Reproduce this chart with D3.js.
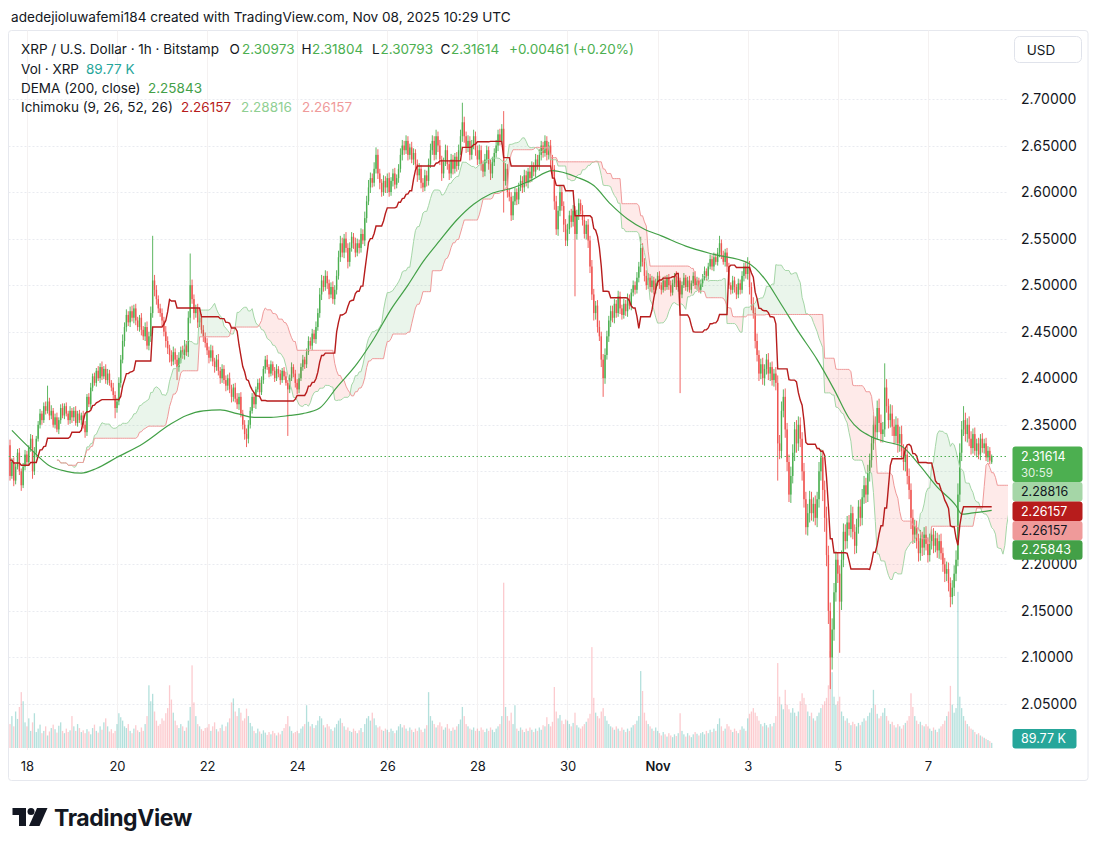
<!DOCTYPE html>
<html>
<head>
<meta charset="utf-8">
<script src="https://cdn.jsdelivr.net/npm/d3@7"></script>
<style>
  body { margin: 0; background: #fff; }
  svg { font-family: Inter, "Noto Sans", sans-serif; }
</style>
</head>
<body>
<svg id="chart" width="1100" height="848"></svg>
<script>
// XRP / USD, 1h candles, Bitstamp

const firstBarTime = '2025-10-17T15:00:00Z';
const firstOpen = 2.328;
const lastOpen = 2.30973;

// hourly closes, one row per day (first row Oct 17 15h-23h, last row Nov 8 0h-10h)
const closeRows = [
  [2.295, 2.310, 2.290, 2.305, 2.320, 2.300, 2.285, 2.305, 2.318],
  [2.310, 2.325, 2.335, 2.300, 2.320, 2.335, 2.350, 2.362, 2.355, 2.370, 2.365, 2.375, 2.360, 2.365, 2.350, 2.358, 2.345, 2.355, 2.368, 2.360, 2.370, 2.362, 2.355, 2.365],
  [2.358, 2.365, 2.352, 2.362, 2.355, 2.360, 2.350, 2.342, 2.380, 2.372, 2.390, 2.402, 2.395, 2.408, 2.400, 2.412, 2.402, 2.410, 2.398, 2.405, 2.395, 2.390, 2.382, 2.368],
  [2.375, 2.395, 2.420, 2.440, 2.455, 2.468, 2.460, 2.472, 2.465, 2.475, 2.462, 2.455, 2.465, 2.452, 2.445, 2.455, 2.435, 2.445, 2.470, 2.505, 2.495, 2.485, 2.475, 2.470],
  [2.462, 2.450, 2.440, 2.432, 2.425, 2.418, 2.428, 2.420, 2.412, 2.422, 2.430, 2.425, 2.435, 2.428, 2.465, 2.500, 2.485, 2.470, 2.475, 2.460, 2.465, 2.452, 2.445, 2.438],
  [2.430, 2.422, 2.430, 2.418, 2.412, 2.420, 2.408, 2.400, 2.410, 2.398, 2.392, 2.400, 2.388, 2.380, 2.390, 2.378, 2.372, 2.380, 2.362, 2.350, 2.340, 2.335, 2.350, 2.365],
  [2.380, 2.372, 2.388, 2.395, 2.385, 2.398, 2.410, 2.420, 2.412, 2.405, 2.415, 2.408, 2.400, 2.410, 2.405, 2.398, 2.408, 2.402, 2.395, 2.388, 2.400, 2.412, 2.405, 2.395],
  [2.388, 2.400, 2.412, 2.420, 2.415, 2.428, 2.440, 2.435, 2.448, 2.442, 2.455, 2.470, 2.490, 2.505, 2.498, 2.510, 2.502, 2.490, 2.498, 2.485, 2.495, 2.510, 2.530, 2.545],
  [2.535, 2.550, 2.540, 2.525, 2.540, 2.552, 2.545, 2.535, 2.545, 2.540, 2.555, 2.548, 2.572, 2.590, 2.605, 2.615, 2.610, 2.625, 2.640, 2.620, 2.610, 2.600, 2.612, 2.605],
  [2.615, 2.600, 2.612, 2.620, 2.608, 2.615, 2.625, 2.640, 2.650, 2.645, 2.655, 2.640, 2.648, 2.635, 2.642, 2.630, 2.618, 2.625, 2.610, 2.605, 2.618, 2.612, 2.630, 2.645],
  [2.655, 2.640, 2.660, 2.650, 2.635, 2.620, 2.632, 2.645, 2.630, 2.620, 2.635, 2.625, 2.638, 2.628, 2.645, 2.660, 2.675, 2.660, 2.648, 2.655, 2.640, 2.650, 2.660, 2.645],
  [2.635, 2.645, 2.630, 2.622, 2.635, 2.645, 2.630, 2.620, 2.632, 2.642, 2.650, 2.662, 2.655, 2.668, 2.612, 2.625, 2.600, 2.595, 2.575, 2.590, 2.600, 2.592, 2.605, 2.612],
  [2.605, 2.618, 2.610, 2.622, 2.615, 2.628, 2.622, 2.635, 2.628, 2.640, 2.650, 2.642, 2.655, 2.640, 2.650, 2.635, 2.625, 2.590, 2.560, 2.580, 2.600, 2.585, 2.565, 2.548],
  [2.560, 2.575, 2.568, 2.580, 2.555, 2.575, 2.588, 2.580, 2.570, 2.555, 2.565, 2.548, 2.520, 2.490, 2.470, 2.478, 2.455, 2.445, 2.420, 2.400, 2.425, 2.445, 2.462, 2.472],
  [2.465, 2.480, 2.470, 2.488, 2.475, 2.468, 2.480, 2.472, 2.485, 2.478, 2.492, 2.500, 2.495, 2.508, 2.520, 2.540, 2.525, 2.510, 2.500, 2.508, 2.498, 2.505, 2.495, 2.502],
  [2.510, 2.500, 2.495, 2.505, 2.498, 2.508, 2.500, 2.492, 2.502, 2.510, 2.498, 2.505, 2.490, 2.500, 2.508, 2.498, 2.505, 2.495, 2.502, 2.510, 2.500, 2.505, 2.495, 2.502],
  [2.508, 2.515, 2.510, 2.520, 2.528, 2.520, 2.530, 2.525, 2.535, 2.545, 2.532, 2.525, 2.535, 2.520, 2.500, 2.495, 2.505, 2.498, 2.490, 2.502, 2.495, 2.510, 2.520, 2.512],
  [2.520, 2.498, 2.480, 2.470, 2.440, 2.425, 2.405, 2.415, 2.400, 2.410, 2.420, 2.405, 2.412, 2.398, 2.405, 2.395, 2.330, 2.322, 2.365, 2.380, 2.345, 2.310, 2.275, 2.295],
  [2.320, 2.345, 2.330, 2.350, 2.335, 2.300, 2.270, 2.240, 2.255, 2.270, 2.255, 2.265, 2.250, 2.270, 2.300, 2.315, 2.280, 2.250, 2.210, 2.150, 2.100, 2.130, 2.170, 2.205],
  [2.190, 2.160, 2.205, 2.235, 2.225, 2.245, 2.238, 2.255, 2.235, 2.220, 2.240, 2.262, 2.250, 2.272, 2.285, 2.275, 2.298, 2.312, 2.330, 2.350, 2.342, 2.368, 2.352, 2.340],
  [2.345, 2.390, 2.370, 2.355, 2.362, 2.348, 2.338, 2.350, 2.330, 2.340, 2.322, 2.310, 2.318, 2.295, 2.280, 2.250, 2.232, 2.240, 2.225, 2.212, 2.228, 2.218, 2.232, 2.222],
  [2.210, 2.225, 2.232, 2.220, 2.228, 2.215, 2.225, 2.212, 2.200, 2.190, 2.195, 2.180, 2.165, 2.175, 2.190, 2.205, 2.275, 2.320, 2.345, 2.355, 2.340, 2.350, 2.335, 2.325],
  [2.340, 2.322, 2.330, 2.318, 2.335, 2.325, 2.330, 2.315, 2.322, 2.31153, 2.31614]
];

// upper wick above the body, in 0.001 USD, same rows
const wickHiRows = [
  [6, 4, 5, 3, 4, 5, 3, 4, 5],
  [4, 3, 5, 4, 6, 3, 4, 5, 3, 4, 5, 17, 4, 6, 3, 4, 5, 3, 4, 5, 3, 4, 3, 5],
  [3, 4, 5, 3, 4, 3, 5, 4, 3, 4, 5, 3, 4, 3, 5, 4, 6, 3, 5, 5, 4, 3, 5, 4],
  [4, 6, 5, 7, 5, 6, 4, 5, 6, 4, 5, 4, 3, 5, 4, 5, 6, 5, 7, 48, 6, 5, 4, 5],
  [5, 4, 6, 5, 4, 5, 6, 4, 5, 6, 4, 5, 6, 5, 7, 34, 6, 5, 4, 5, 6, 4, 5, 4],
  [5, 4, 6, 5, 4, 5, 6, 4, 5, 4, 5, 4, 6, 5, 4, 5, 6, 4, 5, 4, 5, 6, 5, 4],
  [4, 5, 3, 4, 5, 4, 3, 4, 5, 3, 4, 3, 4, 5, 3, 4, 3, 4, 5, 3, 4, 5, 3, 4],
  [4, 5, 4, 5, 3, 4, 5, 4, 5, 4, 6, 5, 7, 6, 5, 6, 5, 4, 5, 6, 5, 6, 7, 8],
  [6, 5, 7, 5, 6, 5, 4, 6, 5, 4, 6, 5, 7, 6, 8, 6, 5, 7, 8, 6, 5, 4, 6, 5],
  [5, 6, 4, 5, 6, 4, 5, 7, 6, 5, 6, 5, 4, 6, 5, 4, 5, 6, 4, 5, 6, 5, 6, 7],
  [6, 5, 7, 5, 6, 4, 5, 6, 5, 4, 6, 5, 4, 5, 6, 7, 21, 6, 5, 6, 5, 6, 7, 5],
  [5, 6, 5, 4, 6, 5, 4, 5, 6, 5, 6, 5, 6, 5, 19, 6, 5, 4, 5, 6, 5, 4, 5, 6],
  [5, 6, 5, 4, 6, 5, 4, 6, 5, 6, 5, 4, 6, 5, 4, 6, 5, 4, 6, 5, 7, 6, 5, 6],
  [6, 5, 7, 6, 5, 6, 5, 4, 6, 5, 4, 6, 5, 7, 6, 5, 6, 7, 5, 6, 7, 6, 5, 6],
  [6, 5, 4, 6, 5, 4, 5, 4, 6, 5, 4, 5, 4, 6, 5, 12, 5, 4, 6, 5, 4, 5, 4, 5],
  [4, 5, 3, 4, 5, 3, 4, 5, 4, 3, 5, 4, 3, 4, 5, 3, 4, 5, 3, 4, 5, 4, 3, 4],
  [4, 5, 3, 4, 5, 4, 5, 4, 5, 8, 4, 5, 4, 5, 4, 3, 5, 4, 3, 5, 4, 5, 4, 6],
  [10, 6, 5, 7, 6, 8, 5, 6, 7, 5, 6, 7, 5, 6, 5, 7, 8, 9, 10, 8, 9, 7, 8, 10],
  [9, 8, 10, 9, 8, 7, 9, 8, 10, 9, 8, 7, 9, 8, 10, 9, 8, 10, 12, 10, 9, 12, 10, 9],
  [8, 9, 10, 9, 8, 7, 8, 9, 7, 8, 9, 7, 8, 9, 10, 8, 9, 7, 8, 10, 9, 8, 10, 9],
  [8, 26, 9, 8, 10, 9, 8, 9, 7, 8, 9, 7, 8, 9, 8, 7, 9, 8, 7, 8, 9, 7, 8, 9],
  [7, 8, 6, 7, 8, 6, 7, 8, 6, 7, 8, 7, 6, 8, 9, 10, 12, 10, 9, 15, 8, 7, 9, 8],
  [6, 7, 5, 6, 5, 6, 5, 6, 5, 4, 1.9]
];

// lower wick below the body, in 0.001 USD, same rows
const wickLoRows = [
  [5, 3, 6, 4, 3, 4, 6, 3, 4],
  [3, 4, 4, 8, 4, 5, 3, 4, 5, 3, 4, 3, 5, 4, 3, 4, 3, 5, 4, 3, 4, 3, 5, 4],
  [6, 4, 3, 4, 3, 5, 4, 6, 4, 3, 5, 4, 3, 4, 3, 5, 4, 3, 4, 5, 3, 4, 5, 11],
  [5, 4, 5, 4, 6, 5, 4, 5, 4, 6, 5, 4, 5, 6, 4, 5, 4, 5, 6, 5, 7, 6, 5, 4],
  [6, 5, 7, 6, 8, 5, 4, 5, 14, 5, 6, 4, 5, 4, 5, 6, 5, 7, 5, 6, 5, 4, 6, 5],
  [5, 6, 4, 5, 6, 4, 5, 6, 5, 4, 6, 5, 4, 6, 5, 4, 5, 6, 4, 5, 6, 9, 5, 4],
  [3, 4, 5, 3, 4, 3, 4, 5, 3, 4, 3, 5, 4, 3, 4, 5, 3, 4, 3, 50, 4, 3, 4, 5],
  [5, 4, 3, 4, 5, 4, 3, 4, 5, 4, 5, 4, 5, 6, 5, 4, 6, 5, 4, 5, 6, 5, 4, 5],
  [5, 6, 5, 7, 5, 4, 6, 5, 4, 6, 5, 4, 6, 5, 4, 6, 5, 4, 5, 6, 7, 5, 4, 6],
  [6, 5, 4, 6, 5, 4, 5, 4, 6, 5, 4, 6, 5, 4, 6, 5, 7, 5, 6, 5, 4, 6, 5, 4],
  [5, 6, 5, 7, 6, 8, 5, 4, 6, 7, 5, 6, 5, 6, 4, 5, 6, 7, 6, 5, 6, 5, 4, 6],
  [6, 5, 7, 6, 5, 4, 6, 7, 5, 4, 5, 6, 5, 4, 34, 5, 6, 5, 6, 5, 4, 6, 5, 4],
  [6, 5, 4, 6, 5, 4, 5, 6, 4, 5, 6, 5, 4, 6, 5, 7, 8, 9, 6, 7, 6, 5, 8, 6],
  [6, 5, 6, 5, 67, 6, 5, 4, 6, 5, 6, 8, 7, 6, 8, 7, 6, 5, 8, 20, 6, 5, 6, 7],
  [5, 6, 5, 4, 6, 5, 4, 5, 6, 4, 5, 4, 5, 4, 5, 6, 5, 6, 5, 4, 5, 6, 5, 4],
  [3, 4, 5, 3, 4, 3, 5, 4, 3, 4, 3, 5, 106, 4, 3, 4, 5, 3, 4, 3, 4, 5, 3, 4],
  [4, 3, 5, 4, 3, 4, 5, 3, 4, 5, 4, 3, 5, 6, 4, 5, 4, 6, 5, 4, 5, 4, 6, 5],
  [6, 8, 7, 6, 8, 7, 8, 6, 7, 8, 6, 7, 8, 6, 7, 8, 40, 9, 8, 7, 9, 10, 8, 9],
  [8, 9, 10, 8, 9, 10, 9, 8, 9, 10, 8, 9, 8, 10, 9, 10, 12, 15, 12, 14, 34, 13, 12, 10],
  [10, 55, 9, 8, 9, 8, 7, 9, 8, 9, 8, 7, 9, 8, 7, 9, 8, 9, 8, 7, 9, 8, 10, 9],
  [9, 8, 7, 9, 8, 10, 9, 8, 10, 9, 8, 9, 10, 9, 10, 12, 10, 9, 8, 9, 8, 9, 8, 7],
  [8, 7, 9, 8, 7, 8, 9, 7, 8, 9, 8, 9, 11, 8, 9, 8, 7, 8, 9, 7, 8, 9, 8, 7],
  [6, 5, 7, 5, 6, 5, 6, 4, 5, 4, 1.8]
];

// hourly volume, thousands of XRP, same rows
const volumeRows = [
  [420, 560, 380, 640, 510, 720, 980, 820, 450],
  [380, 520, 300, 450, 610, 280, 340, 410, 260, 300, 380, 220, 290, 350, 410, 330, 270, 390, 450, 300, 260, 340, 280, 310],
  [560, 380, 300, 420, 350, 280, 310, 260, 330, 290, 240, 350, 410, 300, 270, 380, 320, 450, 520, 380, 290, 330, 260, 300],
  [420, 610, 540, 480, 380, 350, 420, 300, 260, 340, 400, 310, 280, 360, 300, 420, 560, 1100, 820, 950, 640, 480, 390, 420],
  [520, 480, 610, 700, 1100, 850, 620, 480, 400, 350, 420, 380, 300, 360, 480, 720, 1450, 800, 560, 420, 380, 330, 300, 350],
  [360, 420, 300, 380, 450, 330, 290, 350, 410, 300, 380, 450, 520, 800, 870, 640, 560, 700, 620, 480, 520, 690, 560, 440],
  [380, 300, 260, 340, 290, 250, 310, 270, 230, 280, 240, 300, 260, 220, 270, 240, 300, 350, 420, 560, 380, 300, 260, 280],
  [300, 260, 340, 380, 420, 750, 460, 380, 420, 350, 400, 480, 560, 520, 400, 360, 420, 380, 330, 300, 360, 420, 480, 520],
  [440, 380, 320, 360, 300, 280, 340, 300, 260, 310, 350, 280, 420, 520, 560, 480, 620, 520, 400, 360, 380, 320, 300, 340],
  [320, 280, 340, 300, 260, 310, 380, 420, 360, 400, 340, 300, 360, 320, 280, 340, 300, 360, 320, 280, 340, 400, 980, 560],
  [480, 420, 360, 400, 450, 380, 320, 360, 420, 340, 300, 360, 320, 380, 420, 500, 720, 560, 420, 380, 340, 320, 360, 300],
  [340, 300, 360, 320, 280, 340, 300, 360, 320, 280, 340, 380, 420, 560, 2900, 720, 560, 480, 620, 420, 750, 340, 300, 360],
  [320, 280, 340, 300, 360, 320, 280, 340, 300, 360, 320, 400, 380, 540, 420, 380, 460, 1070, 640, 520, 580, 480, 420, 500],
  [480, 420, 380, 440, 620, 400, 360, 340, 380, 420, 460, 520, 600, 1770, 880, 620, 560, 520, 640, 700, 560, 480, 420, 380],
  [360, 320, 380, 340, 300, 360, 320, 280, 340, 300, 360, 400, 420, 480, 560, 1350, 1000, 620, 480, 420, 380, 340, 300, 360],
  [300, 260, 220, 280, 240, 200, 260, 220, 190, 240, 210, 260, 610, 300, 240, 200, 260, 220, 190, 240, 280, 250, 220, 260],
  [280, 240, 300, 260, 320, 280, 340, 300, 420, 520, 380, 300, 340, 420, 380, 320, 280, 340, 300, 260, 320, 380, 340, 300],
  [520, 600, 640, 700, 620, 560, 480, 420, 380, 440, 400, 360, 420, 380, 440, 560, 1490, 900, 760, 680, 1020, 760, 680, 620],
  [700, 620, 560, 640, 820, 960, 880, 760, 640, 560, 620, 520, 480, 560, 620, 700, 760, 820, 880, 1100, 1700, 1330, 900, 760],
  [820, 900, 640, 560, 480, 520, 440, 400, 460, 420, 380, 440, 400, 460, 520, 480, 560, 620, 700, 1020, 760, 600, 520, 560],
  [620, 700, 560, 480, 420, 460, 400, 360, 420, 380, 340, 400, 440, 480, 560, 960, 720, 560, 480, 420, 460, 400, 380, 420],
  [380, 340, 300, 360, 320, 280, 340, 380, 420, 480, 560, 640, 1090, 760, 620, 700, 2740, 900, 700, 560, 480, 420, 380, 340],
  [320, 280, 240, 260, 220, 200, 180, 160, 140, 120, 89.77]
];

// DEMA(200): bar index and value
const demaBars = [1, 12, 21, 30, 38, 46, 57, 71, 85, 94, 103, 112, 121, 130, 139, 149, 156, 165, 174, 185, 194, 203, 212, 220, 229, 238, 247, 256, 267, 277, 289, 302, 311, 320, 329, 338, 347, 360, 375, 393, 402, 411, 420, 430, 439, 447, 459, 466, 475, 484, 494, 504, 507, 512, 523];
const demaValues = [2.344, 2.322, 2.306, 2.300, 2.298, 2.303, 2.315, 2.330, 2.350, 2.360, 2.365, 2.366, 2.362, 2.358, 2.358, 2.360, 2.362, 2.368, 2.390, 2.416, 2.443, 2.474, 2.500, 2.525, 2.548, 2.570, 2.587, 2.598, 2.604, 2.612, 2.623, 2.616, 2.607, 2.587, 2.571, 2.560, 2.553, 2.542, 2.533, 2.524, 2.507, 2.479, 2.450, 2.420, 2.388, 2.357, 2.337, 2.332, 2.327, 2.308, 2.283, 2.263, 2.254, 2.255, 2.258];

const priceTicks = [2.05, 2.10, 2.15, 2.20, 2.25, 2.30, 2.35, 2.40, 2.45, 2.50, 2.55, 2.60, 2.65, 2.70];
const dateTicks = ['2025-10-18', '2025-10-20', '2025-10-22', '2025-10-24', '2025-10-26', '2025-10-28', '2025-10-30', '2025-11-01', '2025-11-03', '2025-11-05', '2025-11-07'];
const dateLabels = ['18', '20', '22', '24', '26', '28', '30', 'Nov', '3', '5', '7'];

// values printed in the legend / on the price scale
const ohlcText = ['2.30973', '2.31804', '2.30793', '2.31614'];
const changeText = '+0.00461 (+0.20%)';
const volumeText = '89.77 K';
const demaText = '2.25843';
const ichimokuText = ['2.26157', '2.28816', '2.26157'];   // base line, lead 1, lead 2
const countdownText = '30:59';

// ---- colours ----
const UP = '#4caf50', DOWN = '#ef5350';
const TXT = '#131722';
const KIJUN = '#b71c1c', SPAN_A = '#a5d6a7', SPAN_B = '#ef9a9a', DEMA = '#43a047';

const svg = d3.select('#chart');
const plot = { left: 8.5, right: 1008, top: 30.5, bottom: 750 };

const closes = closeRows.flat();
const hiWicks = wickHiRows.flat();
const loWicks = wickLoRows.flat();
const vols = volumeRows.flat();
const HOUR = 3600e3;
const t0 = new Date(firstBarTime);
const n = closes.length;

const candles = closes.map((c, i) => {
  let o = i === 0 ? firstOpen : closes[i - 1];
  if (i === n - 1) o = lastOpen;
  return {
    i, t: new Date(+t0 + i * HOUR), o, c,
    h: Math.max(o, c) + hiWicks[i] / 1000,
    l: Math.min(o, c) - loWicks[i] / 1000,
    v: vols[i]
  };
});

const x = d3.scaleUtc().domain([t0, candles[n - 1].t]).range([10, 991.7]);
const y = d3.scaleLinear().domain([2.05, 2.70]).range([704, 99]);
const yVol = d3.scaleLinear().domain([0, 3000]).range([748, 577]);
const barTime = i => new Date(+t0 + i * HOUR);

// ---- ichimoku from the candles (9, 26, 52, 26) ----
const highs = candles.map(d => d.h), lows = candles.map(d => d.l);
function midRange(i, len) {
  const s = Math.max(0, i - len + 1);
  return (d3.max(highs.slice(s, i + 1)) + d3.min(lows.slice(s, i + 1))) / 2;
}
const kijun = candles.map(d => ({ t: d.t, v: midRange(d.i, 26) }));
const cloud = candles.map(d => ({
  t: barTime(d.i + 25),
  a: (midRange(d.i, 9) + midRange(d.i, 26)) / 2,
  b: midRange(d.i, 52)
}));

// ---- frame ----
svg.append('rect').attr('x', plot.left).attr('y', plot.top)
  .attr('width', 1088 - plot.left).attr('height', 780.5 - plot.top)
  .attr('fill', 'none').attr('stroke', '#e6e8ee').attr('rx', 3);

svg.append('defs').append('clipPath').attr('id', 'plotclip')
  .append('rect').attr('x', plot.left).attr('y', plot.top)
  .attr('width', plot.right - plot.left).attr('height', plot.bottom - plot.top);

// grid
const grid = svg.append('g');
grid.selectAll('line.h').data(priceTicks).join('line')
  .attr('x1', plot.left).attr('x2', plot.right)
  .attr('y1', d => Math.round(y(d)) + 0.5).attr('y2', d => Math.round(y(d)) + 0.5)
  .attr('stroke', '#e9ebf0').attr('stroke-dasharray', '2,2');
grid.selectAll('line.v').data(dateTicks).join('line')
  .attr('x1', d => Math.round(x(new Date(d + 'T00:00:00Z'))) + 0.5)
  .attr('x2', d => Math.round(x(new Date(d + 'T00:00:00Z'))) + 0.5)
  .attr('y1', plot.top).attr('y2', plot.bottom)
  .attr('stroke', '#f4f1f1');

const chart = svg.append('g').attr('clip-path', 'url(#plotclip)');

// volume
chart.append('g').selectAll('rect').data(candles).join('rect')
  .attr('x', d => x(d.t) - 0.65).attr('width', 1.3)
  .attr('y', d => yVol(d.v)).attr('height', d => yVol(0) - yVol(d.v))
  .attr('fill', d => d.c >= d.o ? 'rgba(38,166,154,0.35)' : 'rgba(242,54,69,0.26)');

// candles
const cg = chart.append('g');
cg.selectAll('line').data(candles).join('line')
  .attr('x1', d => x(d.t)).attr('x2', d => x(d.t))
  .attr('y1', d => y(d.h)).attr('y2', d => y(d.l))
  .attr('stroke', d => d.c >= d.o ? UP : DOWN).attr('stroke-width', 0.9);
cg.selectAll('rect').data(candles).join('rect')
  .attr('x', d => x(d.t) - 0.7).attr('width', 1.4)
  .attr('y', d => y(Math.max(d.o, d.c)))
  .attr('height', d => Math.max(0.8, Math.abs(y(d.o) - y(d.c))))
  .attr('fill', d => d.c >= d.o ? UP : DOWN);

// ichimoku cloud
chart.append('path').datum(cloud)
  .attr('d', d3.area().x(d => x(d.t)).y0(d => y(d.b)).y1(d => y(Math.max(d.a, d.b))))
  .attr('fill', 'rgba(67,160,71,0.11)');
chart.append('path').datum(cloud)
  .attr('d', d3.area().x(d => x(d.t)).y0(d => y(d.a)).y1(d => y(Math.max(d.a, d.b))))
  .attr('fill', 'rgba(244,67,54,0.11)');
chart.append('path').datum(cloud)
  .attr('d', d3.line().x(d => x(d.t)).y(d => y(d.a)))
  .attr('fill', 'none').attr('stroke', SPAN_A).attr('stroke-width', 1);
chart.append('path').datum(cloud)
  .attr('d', d3.line().x(d => x(d.t)).y(d => y(d.b)))
  .attr('fill', 'none').attr('stroke', SPAN_B).attr('stroke-width', 1);

// DEMA
const demaPts = demaBars.map((b, k) => ({ t: barTime(b), v: demaValues[k] }));
chart.append('path').datum(demaPts)
  .attr('d', d3.line().x(d => x(d.t)).y(d => y(d.v)).curve(d3.curveMonotoneX))
  .attr('fill', 'none').attr('stroke', DEMA).attr('stroke-width', 1.2);

// base line
chart.append('path').datum(kijun)
  .attr('d', d3.line().x(d => x(d.t)).y(d => y(d.v)))
  .attr('fill', 'none').attr('stroke', KIJUN).attr('stroke-width', 1.4);

// last price line
const last = candles[n - 1];
chart.append('line')
  .attr('x1', plot.left).attr('x2', plot.right)
  .attr('y1', Math.round(y(last.c)) + 0.5).attr('y2', Math.round(y(last.c)) + 0.5)
  .attr('stroke', UP).attr('stroke-dasharray', '1.5,2.5');

// ---- labels on the price scale: stack them first, they hide the ticks below them ----
const sideLabels = [
  { value: last.c, lines: [ohlcText[3], countdownText], fill: UP, color: '#fff' },
  { value: +ichimokuText[1], lines: [ichimokuText[1]], fill: SPAN_A, color: TXT },
  { value: +ichimokuText[0], lines: [ichimokuText[0]], fill: KIJUN, color: '#fff' },
  { value: +ichimokuText[2], lines: [ichimokuText[2]], fill: SPAN_B, color: TXT },
  { value: +demaText, lines: [demaText], fill: DEMA, color: '#fff' }
];
const LH = 19.4;
const LFS = 12.5;   // label font size
let nextTop = -Infinity;
sideLabels.forEach(s => {
  s.h = s.lines.length === 2 ? 35.5 : LH;
  s.top = Math.max(y(s.value) - LH / 2, nextTop);
  nextTop = s.top + s.h;
});
const covered = p => sideLabels.some(s => y(p) > s.top && y(p) < s.top + s.h);

// ---- price axis ----
const yAxis = svg.append('g').attr('transform', 'translate(1021,0)')
  .call(d3.axisRight(y).tickValues(priceTicks.filter(p => !covered(p)))
    .tickFormat(d3.format('.5f')).tickSize(0).tickPadding(0));
yAxis.select('.domain').remove();
yAxis.selectAll('text').attr('font-family', 'Inter, sans-serif').attr('font-size', 14).attr('fill', TXT);

// ---- time axis ----
const xAxis = svg.append('g').attr('transform', 'translate(0,762)')
  .call(d3.axisBottom(x).tickValues(dateTicks.map(d => new Date(d + 'T00:00:00Z')))
    .tickFormat((d, k) => dateLabels[k]).tickSize(0).tickPadding(0));
xAxis.select('.domain').remove();
xAxis.selectAll('text').attr('font-family', 'Inter, sans-serif').attr('font-size', 13).attr('fill', TXT)
  .attr('font-weight', (d, k) => dateLabels[k] === 'Nov' ? 600 : 400);

const lg = svg.append('g').attr('font-size', LFS);
sideLabels.forEach(s => {
  lg.append('rect').attr('x', 1012.5).attr('y', s.top).attr('width', 70).attr('height', s.h)
    .attr('rx', 3).attr('fill', s.fill);
  s.lines.forEach((t, k) => {
    // baseline placed so the digits sit centred in each row
    lg.append('text').attr('x', 1021).attr('y', s.top + LH / 2 + LFS * 0.36 + k * 16.5)
      .attr('fill', s.color)
      .attr('font-size', k === 1 ? 11.5 : null)
      .attr('fill-opacity', k === 1 ? 0.85 : 1).text(t);
  });
});
// volume label
const vTop = Math.min(yVol(last.v) - LH / 2, 729);
lg.append('rect').attr('x', 1012.5).attr('y', vTop).attr('width', 64).attr('height', LH)
  .attr('rx', 3).attr('fill', '#26a69a');
lg.append('text').attr('x', 1021).attr('y', vTop + LH / 2 + LFS * 0.36)
  .attr('fill', '#fff').text(volumeText);

// USD button
svg.append('rect').attr('x', 1014.5).attr('y', 36.5).attr('width', 67).attr('height', 26)
  .attr('rx', 5).attr('fill', '#fff').attr('stroke', '#e0e3eb');
svg.append('text').attr('x', 1041).attr('y', 50).attr('text-anchor', 'middle')
  .attr('dominant-baseline', 'central').attr('font-size', 13.5).attr('fill', TXT).text('USD');

// ---- header & legend ----
svg.append('text').attr('x', 11).attr('y', 17).attr('dominant-baseline', 'central')
  .attr('font-size', 13.6).attr('fill', TXT)
  .text('adedejioluwafemi184 created with TradingView.com, Nov 08, 2025 10:29 UTC');

const legend = svg.append('g').attr('font-size', 13.5);
function legendLine(yy, parts) {
  const t = legend.append('text').attr('y', yy).attr('dominant-baseline', 'central');
  parts.forEach(p => t.append('tspan').attr('x', p[0]).attr('fill', p[2] || TXT).text(p[1]));
}
legendLine(49, [
  [21, 'XRP / U.S. Dollar · 1h · Bitstamp'],
  [229.5, 'O'], [242, ohlcText[0], UP],
  [301.5, 'H'], [312, ohlcText[1], UP],
  [372, 'L'], [380.5, ohlcText[2], UP],
  [440.5, 'C'], [451, ohlcText[3], UP],
  [509, changeText, UP]
]);
legendLine(69, [[21, 'Vol · XRP'], [86, volumeText, '#26a69a']]);
legendLine(88, [[21, 'DEMA (200, close)'], [148, demaText, DEMA]]);
legendLine(107, [
  [21, 'Ichimoku (9, 26, 52, 26)'],
  [181, ichimokuText[0], KIJUN], [241, ichimokuText[1], '#8fcf92'], [302, ichimokuText[2], SPAN_B]
]);

// ---- TradingView logo ----
const logo = svg.append('g').attr('fill', '#131722');
logo.append('path').attr('d', 'M12.5,808 H26 V826 H19 V815 H12.5 Z');
logo.append('circle').attr('cx', 31).attr('cy', 811.5).attr('r', 3.5);
logo.append('path').attr('d', 'M37,808 H47.5 L39.5,826 H29 Z');
logo.append('text').attr('x', 54).attr('y', 825.5).attr('font-size', 23).attr('font-weight', 700)
  .attr('letter-spacing', -0.4).text('TradingView');
</script>
</body>
</html>
